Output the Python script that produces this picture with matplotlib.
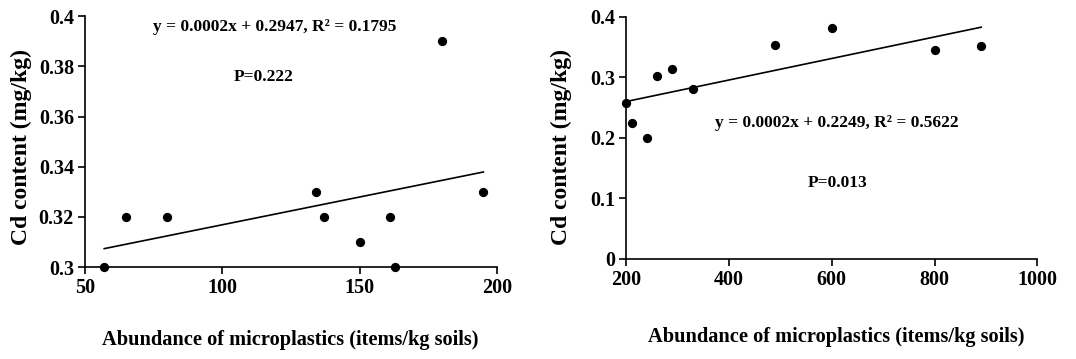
import numpy as np
import matplotlib
matplotlib.use("Agg")
import matplotlib.pyplot as plt

# Left panel: sites with lower microplastic abundance
abund_a = [57, 65, 80, 134, 137, 150, 161, 163, 180, 195]
cd_a = [0.30, 0.32, 0.32, 0.33, 0.32, 0.31, 0.32, 0.30, 0.39, 0.33]
eq_a = "y = 0.0002x + 0.2947, R² = 0.1795"
p_a = "P=0.222"

# Right panel: sites with higher microplastic abundance
abund_b = [200, 211, 240, 260, 290, 329, 490, 601, 800, 891]
cd_b = [0.258, 0.224, 0.200, 0.302, 0.314, 0.281, 0.354, 0.382, 0.345, 0.352]
eq_b = "y = 0.0002x + 0.2249, R² = 0.5622"
p_b = "P=0.013"

xlabel = "Abundance of microplastics (items/kg soils)"
ylabel = "Cd content (mg/kg)"

plt.rcParams["font.family"] = ["Liberation Serif", "DejaVu Serif"]
plt.rcParams["font.weight"] = "bold"

fig = plt.figure(figsize=(10.76, 3.59), dpi=100)
ax1 = fig.add_axes([0.079, 0.256, 0.383, 0.699])
ax2 = fig.add_axes([0.582, 0.279, 0.382, 0.674])


def style(ax):
    for s in ("top", "right"):
        ax.spines[s].set_visible(False)
    for s in ("left", "bottom"):
        ax.spines[s].set_linewidth(1.2)
    ax.tick_params(direction="out", length=5, width=1.2, labelsize=14.5, pad=3)
    for lab in ax.get_xticklabels() + ax.get_yticklabels():
        lab.set_fontweight("bold")


def panel(ax, x, y, eq, p, eqpos, ppos):
    x = np.asarray(x, float)
    y = np.asarray(y, float)
    k, b = np.polyfit(x, y, 1)
    xs = np.array([x.min(), x.max()])
    ax.plot(xs, k * xs + b, color="black", lw=1.2, zorder=2)
    ax.scatter(x, y, s=32, color="black", zorder=3, clip_on=False)
    ax.text(*eqpos, eq, ha="center", va="center", fontsize=12.5, fontweight="bold")
    ax.text(*ppos, p, ha="center", va="center", fontsize=12.5, fontweight="bold")


panel(ax1, abund_a, cd_a, eq_a, p_a, (119, 0.3957), (115, 0.3758))
ax1.set_xlim(50, 200)
ax1.set_ylim(0.3, 0.4)
ax1.set_xticks([50, 100, 150, 200])
ax1.set_yticks([0.3, 0.32, 0.34, 0.36, 0.38, 0.4])
ax1.set_yticklabels(["0.3", "0.32", "0.34", "0.36", "0.38", "0.4"])
style(ax1)

panel(ax2, abund_b, cd_b, eq_b, p_b, (610, 0.224), (612, 0.126))
ax2.set_xlim(200, 1000)
ax2.set_ylim(0, 0.4)
ax2.set_xticks([200, 400, 600, 800, 1000])
ax2.set_yticks([0, 0.1, 0.2, 0.3, 0.4])
ax2.set_yticklabels(["0", "0.1", "0.2", "0.3", "0.4"])
style(ax2)

fig.text(0.27, 1 - 340 / 359, xlabel, ha="center", va="center", fontsize=14.7, fontweight="bold")
fig.text(0.777, 1 - 337 / 359, xlabel, ha="center", va="center", fontsize=14.7, fontweight="bold")
fig.text(21 / 1076, 1 - 147 / 359, ylabel, ha="center", va="center", rotation=90, fontsize=17, fontweight="bold")
fig.text(561 / 1076, 1 - 147 / 359, ylabel, ha="center", va="center", rotation=90, fontsize=17, fontweight="bold")

fig.savefig("out.png", dpi=100)
